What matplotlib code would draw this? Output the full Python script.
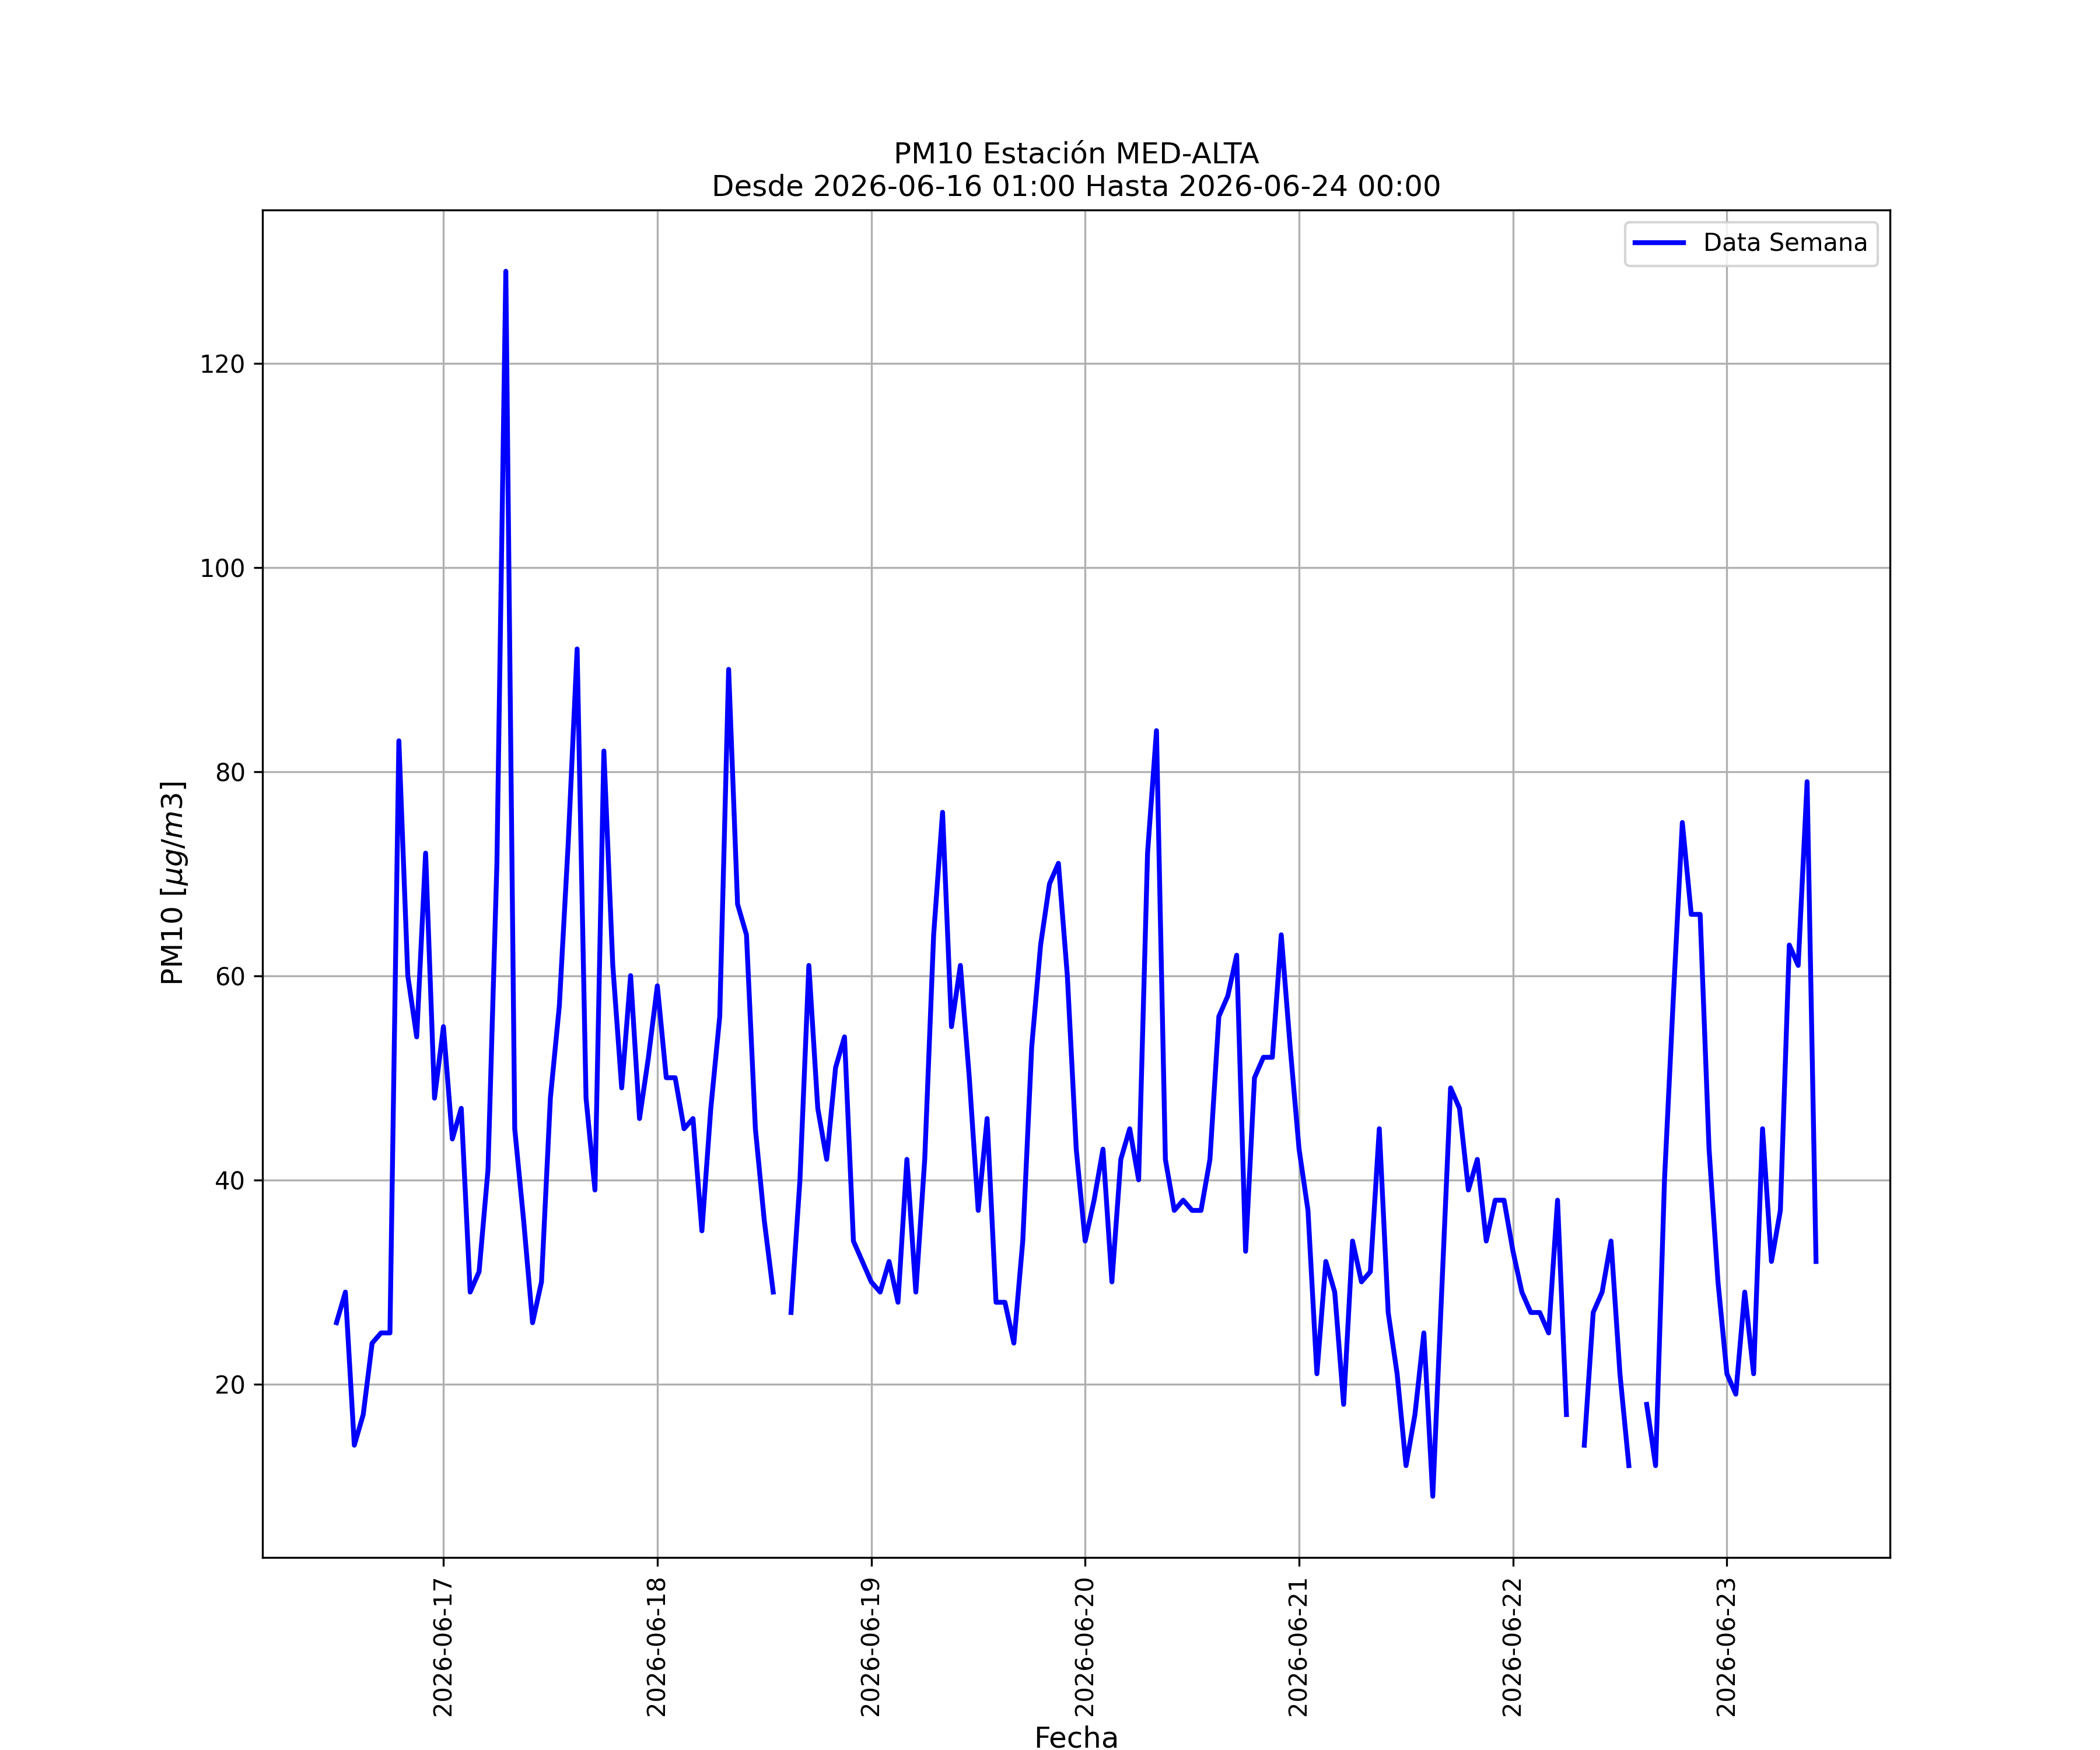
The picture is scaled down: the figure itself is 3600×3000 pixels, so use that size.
import numpy as np
import pandas as pd
import matplotlib
matplotlib.use('Agg')
import matplotlib.pyplot as plt
import matplotlib.dates as mdates

estacion = 'MED-ALTA'
desde = '2026-06-16 01:00'
hasta = '2026-06-24 00:00'

# horas con dato (antes de las 12:00 del 16 no hay registros)
fechas = pd.date_range('2026-06-16 12:00', periods=167, freq='h')

pm10 = [26, 29, 14, 17, 24, 25, 25, 83, 60, 54, 72, 48,
        55, 44, 47, 29, 31, 41, 71, 129, 45, 36, 26, 30, 48, 57, 73, 92,
        48, 39, 82, 61, 49, 60, 46, 52,
        59, 50, 50, 45, 46, 35, 47, 56, 90, 67, 64, 45, 36, 29, np.nan, 27,
        40, 61, 47, 42, 51, 54, 34, 32,
        30, 29, 32, 28, 42, 29, 42, 64, 76, 55, 61, 50, 37, 46, 28, 28,
        24, 34, 53, 63, 69, 71, 60, 43,
        34, 38, 43, 30, 42, 45, 40, 72, 84, 42, 37, 38, 37, 37, 42, 56,
        58, 62, 33, 50, 52, 52, 64, 53,
        43, 37, 21, 32, 29, 18, 34, 30, 31, 45, 27, 21, 12, 17, 25, 9,
        29, 49, 47, 39, 42, 34, 38, 38,
        33, 29, 27, 27, 25, 38, 17, np.nan, 14, 27, 29, 34, 21, 12, np.nan, 18,
        12, 40, 58, 75, 66, 66, 43, 30,
        21, 19, 29, 21, 45, 32, 37, 63, 61, 79, 32]

fig, ax = plt.subplots(figsize=(12, 10))
ax.plot(fechas, pm10, color='blue', linewidth=2, label='Data Semana')
ax.xaxis.set_major_locator(mdates.DayLocator())
ax.xaxis.set_major_formatter(mdates.DateFormatter('%Y-%m-%d'))
plt.xticks(rotation=90)
ax.grid(True)
ax.set_title('PM10 Estación ' + estacion + '\nDesde ' + desde + ' Hasta ' + hasta, fontsize=12)
ax.set_xlabel('Fecha', fontsize=12)
ax.set_ylabel(r'PM10 [$\mu g/m3$]', fontsize=12)
ax.legend(loc='upper right')
fig.savefig('out.png', dpi=300)
